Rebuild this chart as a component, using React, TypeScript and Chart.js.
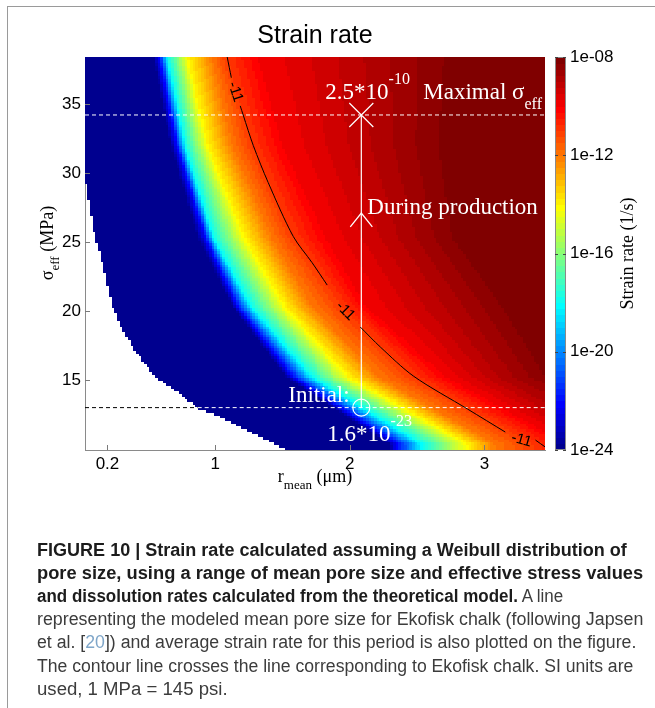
import React, { useEffect, useLayoutEffect, useRef } from 'react';
import { Chart, registerables } from 'chart.js';
Chart.register(...registerables);

// ---------- axes ----------
const chartTitle = 'Strain rate';
const xTickValues = [0.2, 1, 2, 3];
const yTickValues = [15, 20, 25, 30, 35];
const cbarTickValues = [-24, -20, -16, -12, -8];
const xLimits = [0.033, 3.45];
const yLimits = [9.93, 38.4];
const cbarLimits = [-24, -8];

// ---------- strain-rate field: r (um) where log10(rate) reaches each level, per sigma row ----------
const fieldLevels = [-24, -22, -18, -14, -12, -11, -10, -9, -8.25];
const fieldRowSigma = [10.4, 15.3, 20.4, 25.4, 32.0, 38.4];
const rowSigma10 = [2.29, 2.36, 2.54, 2.88, 3.08, 3.36, 3.62, 4.0, 4.6];
const rowSigma15 = [1.52, 1.58, 1.72, 1.99, 2.21, 2.47, 2.71, 3.1, 3.45];
const rowSigma20 = [1.13, 1.17, 1.27, 1.52, 1.72, 1.94, 2.12, 2.7, 3.13];
const rowSigma25 = [0.87, 0.93, 0.99, 1.22, 1.42, 1.58, 1.82, 2.36, 2.76];
const rowSigma32 = [0.67, 0.72, 0.78, 0.95, 1.13, 1.28, 1.5, 2.16, 2.66];
const rowSigma38 = [0.54, 0.59, 0.65, 0.8, 0.98, 1.09, 1.32, 2.11, 2.7];
const fieldRows = [rowSigma10, rowSigma15, rowSigma20, rowSigma25, rowSigma32, rowSigma38];

// no-data (white) region: r below this boundary
const maskSigma = [9.93, 10.1, 11.2, 12.3, 13.0, 14.1, 15.3, 17.0, 18.6, 20.4, 24.4, 25.4, 26.8, 29.7];
const maskR = [1.53, 1.51, 1.28, 1.06, 0.87, 0.74, 0.55, 0.42, 0.316, 0.24, 0.145, 0.108, 0.085, 0.033];

// ---------- contour line log10(rate) = -11 ----------
const contourText = '-11';
const contourR = [1.089, 1.12, null, 1.186, 1.208, 1.283, 1.394, 1.58, 1.72, 1.832, null, 2.078, 2.227, 2.472, 2.874, 3.155, null, 3.379, 3.453];
const contourS = [38.41, 36.9, null, 34.86, 34.2, 31.99, 29.3, 25.4, 23.5, 21.88, null, 18.84, 17.39, 15.29, 12.9, 11.23, null, 10.65, 10.14];
const contourLabelR = [1.149, 1.967, 3.275];
const contourLabelS = [35.87, 20.0, 10.65];
const contourLabelAngle = [72, 45, 16];

// ---------- Ekofisk path ----------
const ekofiskR = 2.0855;
const sigmaInitial = 13.0;
const sigmaMaximal = 34.2;
const sigmaProduction = 27.1;
const chevronR = [ekofiskR - 0.082, ekofiskR, ekofiskR + 0.082];
const chevronS = [sigmaProduction - 1.0, sigmaProduction, sigmaProduction - 1.0];
const rateMaximalMantissa = '2.5*10';
const rateMaximalExp = '-10';
const rateInitialMantissa = '1.6*10';
const rateInitialExp = '-23';

const captionLines = [
  { b: 'FIGURE 10 | Strain rate calculated assuming a Weibull distribution of', n: '', w: 590 },
  { b: 'pore size, using a range of mean pore size and effective stress values', n: '', w: 606 },
  { b: 'and dissolution rates calculated from the theoretical model.', n: ' A line', w: 526 },
  { b: '', n: 'representing the modeled mean pore size for Ekofisk chalk (following Japsen', w: 606 },
  { b: '', n: 'et al. [|20|]) and average strain rate for this period is also plotted on the figure.', w: 599 },
  { b: '', n: 'The contour line crosses the line corresponding to Ekofisk chalk. SI units are', w: 596 },
  { b: '', n: 'used, 1 MPa = 145 psi.', w: 191 },
];

// ---------- helpers ----------
function interp1(xs: number[], ys: number[], x: number): number {
  if (x <= xs[0]) return ys[0];
  const n = xs.length;
  if (x >= xs[n - 1]) return ys[n - 1];
  for (let k = 0; k < n - 1; k++) {
    if (x <= xs[k + 1]) {
      const f = (x - xs[k]) / (xs[k + 1] - xs[k]);
      return ys[k] + f * (ys[k + 1] - ys[k]);
    }
  }
  return ys[n - 1];
}
function levelPositionsAt(s: number): number[] {
  return fieldLevels.map((_, li) => interp1(fieldRowSigma, fieldRows.map((row) => row[li]), s));
}
function valueAt(pos: number[], r: number): number {
  const n = pos.length;
  if (r <= pos[0]) return fieldLevels[0] - 1;
  if (r >= pos[n - 1]) return fieldLevels[n - 1];
  for (let k = 0; k < n - 1; k++) {
    if (r <= pos[k + 1]) {
      const f = (r - pos[k]) / (pos[k + 1] - pos[k]);
      return fieldLevels[k] + f * (fieldLevels[k + 1] - fieldLevels[k]);
    }
  }
  return fieldLevels[n - 1];
}
function maskAt(s: number): number {
  if (s > maskSigma[maskSigma.length - 1]) return -Infinity;
  return interp1(maskSigma, maskR, s);
}
function jetU(j: number): number {
  if (j < 1 || j > 47) return 0;
  if (j <= 16) return j / 16;
  if (j <= 31) return 1;
  return (48 - j) / 16;
}
function jetColor(idx: number): string {
  const k = idx + 1;
  const r = jetU(k - 24), g = jetU(k - 8), b = jetU(k + 8);
  return `rgb(${Math.round(r * 255)},${Math.round(g * 255)},${Math.round(b * 255)})`;
}
const jetTable = Array.from({ length: 64 }, (_, i) => jetColor(i));
function colorFor(v: number): string {
  const t = (v - cbarLimits[0]) / (cbarLimits[1] - cbarLimits[0]);
  const idx = Math.max(0, Math.min(63, Math.floor(t * 64)));
  return jetTable[idx];
}

type Part = { t: string; f: number; dy?: number };
function drawRich(ctx: CanvasRenderingContext2D, parts: Part[], x: number, y: number, family: string, measureOnly = false): number {
  let cx = x;
  for (const p of parts) {
    ctx.font = `${p.f}px ${family}`;
    if (!measureOnly) ctx.fillText(p.t, cx, y + (p.dy || 0));
    cx += ctx.measureText(p.t).width;
  }
  return cx - x;
}

const SERIF = '"Liberation Serif", "Times New Roman", serif';
const SANS = '"Liberation Sans", Arial, sans-serif';

const heatmapPlugin = {
  id: 'heatmap',
  beforeDatasetsDraw(chart: any) {
    const { ctx, chartArea, scales } = chart;
    const xs = scales.x, ys = scales.y;
    ctx.save();
    ctx.beginPath();
    ctx.rect(chartArea.left, chartArea.top, chartArea.width, chartArea.height);
    ctx.clip();
    const nr = 170, ns = 146;
    const dr = (xLimits[1] - xLimits[0]) / nr;
    const ds = (yLimits[1] - yLimits[0]) / ns;
    for (let j = 0; j < ns; j++) {
      const s0 = yLimits[0] + j * ds;
      const sc = s0 + ds / 2;
      const pos = levelPositionsAt(sc);
      const rm = maskAt(sc);
      const py0 = Math.floor(ys.getPixelForValue(s0 + ds));
      const py1 = Math.ceil(ys.getPixelForValue(s0));
      for (let i = 0; i < nr; i++) {
        const r0 = xLimits[0] + i * dr;
        const rc = r0 + dr / 2;
        if (rc < rm) continue;
        ctx.fillStyle = colorFor(valueAt(pos, rc));
        const px0 = Math.floor(xs.getPixelForValue(r0));
        const px1 = Math.ceil(xs.getPixelForValue(r0 + dr));
        ctx.fillRect(px0, py0, px1 - px0, py1 - py0);
      }
    }
    ctx.restore();
  },
};

const annotationPlugin = {
  id: 'annotations',
  afterDatasetsDraw(chart: any) {
    const { ctx, scales } = chart;
    const xs = scales.x, ys = scales.y;
    ctx.save();
    ctx.fillStyle = '#000';
    ctx.font = `15px ${SANS}`;
    ctx.textAlign = 'center';
    ctx.textBaseline = 'middle';
    contourLabelR.forEach((r, i) => {
      ctx.save();
      ctx.translate(xs.getPixelForValue(r), ys.getPixelForValue(contourLabelS[i]));
      ctx.rotate((contourLabelAngle[i] * Math.PI) / 180);
      ctx.fillText(contourText, 0, 0);
      ctx.restore();
    });
    ctx.fillStyle = '#fff';
    ctx.textAlign = 'left';
    ctx.textBaseline = 'alphabetic';
    const px = xs.getPixelForValue(ekofiskR);
    const pMax = ys.getPixelForValue(sigmaMaximal);
    const pInit = ys.getPixelForValue(sigmaInitial);
    const pProd = ys.getPixelForValue(sigmaProduction);
    drawRich(ctx, [{ t: rateMaximalMantissa, f: 23 }, { t: rateMaximalExp, f: 16, dy: -15 }], px - 36, pMax - 16, SERIF);
    drawRich(ctx, [{ t: 'Maximal σ', f: 23 }, { t: 'eff', f: 16, dy: 10 }], px + 62, pMax - 16, SERIF);
    drawRich(ctx, [{ t: 'During production', f: 23 }], px + 6, pProd + 1, SERIF);
    drawRich(ctx, [{ t: 'Initial:', f: 23 }], px - 73, pInit - 6, SERIF);
    drawRich(ctx, [{ t: rateInitialMantissa, f: 23 }, { t: rateInitialExp, f: 16, dy: -15 }], px - 34, pInit + 33, SERIF);
    ctx.restore();
  },
  afterDraw(chart: any) {
    const { ctx, chartArea, scales } = chart;
    const xs = scales.x, ys = scales.y, cs = scales.cbar;
    ctx.save();
    ctx.strokeStyle = '#7a7a7a';
    ctx.lineWidth = 1;
    ctx.beginPath();
    xTickValues.forEach((v) => {
      const p = Math.round(xs.getPixelForValue(v)) + 0.5;
      ctx.moveTo(p, chartArea.bottom);
      ctx.lineTo(p, chartArea.bottom - 5);
    });
    yTickValues.forEach((v) => {
      const p = Math.round(ys.getPixelForValue(v)) + 0.5;
      ctx.moveTo(chartArea.left, p);
      ctx.lineTo(chartArea.left + 5, p);
    });
    ctx.stroke();
    // colorbar
    const cx0 = chartArea.right + 10, cx1 = chartArea.right + 21;
    for (let i = 0; i < 64; i++) {
      const v0 = cbarLimits[0] + (i * (cbarLimits[1] - cbarLimits[0])) / 64;
      const v1 = cbarLimits[0] + ((i + 1) * (cbarLimits[1] - cbarLimits[0])) / 64;
      const y0 = Math.floor(cs.getPixelForValue(v1));
      const y1 = Math.ceil(cs.getPixelForValue(v0));
      ctx.fillStyle = jetTable[i];
      ctx.fillRect(cx0, y0, cx1 - cx0, y1 - y0);
    }
    ctx.strokeStyle = '#8a8a8a';
    ctx.strokeRect(cx0 + 0.5, Math.round(chartArea.top) + 0.5, cx1 - cx0 - 1, Math.round(chartArea.height) - 1);
    ctx.strokeStyle = '#444';
    ctx.beginPath();
    cbarTickValues.forEach((v) => {
      const p = Math.round(cs.getPixelForValue(v)) + 0.5;
      ctx.moveTo(cx0, p); ctx.lineTo(cx0 + 3, p);
      ctx.moveTo(cx1, p); ctx.lineTo(cx1 - 3, p);
    });
    ctx.stroke();
    // title
    ctx.fillStyle = '#000';
    ctx.font = `25px ${SANS}`;
    ctx.textAlign = 'center';
    ctx.fillText(chartTitle, (chartArea.left + chartArea.right) / 2, 43);
    ctx.textAlign = 'left';
    // x axis title
    const xParts: Part[] = [{ t: 'r', f: 18 }, { t: 'mean', f: 13, dy: 7 }, { t: ' (μm)', f: 18 }];
    const xw = drawRich(ctx, xParts, 0, 0, SERIF, true);
    drawRich(ctx, xParts, (chartArea.left + chartArea.right) / 2 - xw / 2, 482, SERIF);
    // y axis title
    const yParts: Part[] = [{ t: 'σ', f: 18 }, { t: 'eff', f: 13, dy: 6 }, { t: ' (MPa)', f: 18 }];
    const yw = drawRich(ctx, yParts, 0, 0, SERIF, true);
    ctx.save();
    ctx.translate(53, 243);
    ctx.rotate(-Math.PI / 2);
    drawRich(ctx, yParts, -yw / 2, 0, SERIF);
    ctx.restore();
    // colorbar title
    const cParts: Part[] = [{ t: 'Strain rate (1/s)', f: 18 }];
    const cw = drawRich(ctx, cParts, 0, 0, SERIF, true);
    ctx.save();
    ctx.translate(633, (chartArea.top + chartArea.bottom) / 2);
    ctx.rotate(-Math.PI / 2);
    drawRich(ctx, cParts, -cw / 2, 0, SERIF);
    ctx.restore();
    ctx.restore();
  },
};

function toPoints(rs: (number | null)[], ss: (number | null)[]) {
  return rs.map((r, i) => ({ x: r, y: ss[i] }));
}

function ChartCanvas() {
  const ref = useRef<HTMLCanvasElement>(null);
  useEffect(() => {
    if (!ref.current) return;
    const white = '#ffffff';
    const chart = new Chart(ref.current, {
      type: 'scatter',
      data: {
        datasets: [
          {
            data: toPoints(contourR, contourS) as any,
            showLine: true, spanGaps: false, borderColor: '#000', borderWidth: 1, pointRadius: 0, tension: 0.3,
          },
          {
            data: toPoints([xLimits[0], xLimits[1]], [sigmaMaximal, sigmaMaximal]) as any,
            showLine: true, borderColor: white, borderWidth: 1, borderDash: [4, 3], pointRadius: 0,
          },
          {
            data: toPoints([maskAt(sigmaInitial), xLimits[1]], [sigmaInitial, sigmaInitial]) as any,
            showLine: true, borderColor: white, borderWidth: 1, borderDash: [4, 3], pointRadius: 0,
          },
          {
            data: toPoints([xLimits[0], maskAt(sigmaInitial)], [sigmaInitial, sigmaInitial]) as any,
            showLine: true, borderColor: '#000', borderWidth: 1, borderDash: [4, 3], pointRadius: 0,
          },
          {
            data: toPoints([ekofiskR, ekofiskR], [sigmaInitial, sigmaMaximal]) as any,
            showLine: true, borderColor: white, borderWidth: 1.2, pointRadius: 0,
          },
          {
            data: toPoints(chevronR, chevronS) as any,
            showLine: true, borderColor: white, borderWidth: 1.3, pointRadius: 0,
          },
          {
            data: toPoints([ekofiskR], [sigmaMaximal]) as any,
            pointStyle: 'crossRot', pointRadius: 17, borderColor: white, borderWidth: 1.2, backgroundColor: 'transparent',
          },
          {
            data: toPoints([ekofiskR], [sigmaInitial]) as any,
            pointStyle: 'circle', pointRadius: 8.5, borderColor: white, borderWidth: 1.2, backgroundColor: 'rgba(0,0,0,0)',
          },
        ],
      },
      options: {
        animation: false,
        responsive: false,
        events: [],
        layout: { padding: { top: 57, left: 0, right: 0, bottom: 0 } },
        plugins: { legend: { display: false }, tooltip: { enabled: false }, title: { display: false } },
        scales: {
          x: {
            type: 'linear', min: xLimits[0], max: xLimits[1],
            afterBuildTicks: (s: any) => { s.ticks = xTickValues.map((v) => ({ value: v })); },
            afterFit: (s: any) => { s.height = 55; },
            ticks: { callback: (v: any) => String(v), color: '#000', font: { family: SANS, size: 17 }, padding: 4, maxRotation: 0 },
            grid: { display: true, drawOnChartArea: false, drawTicks: false },
            border: { display: true, color: '#8a8a8a', width: 1 },
          },
          y: {
            type: 'linear', min: yLimits[0], max: yLimits[1],
            afterBuildTicks: (s: any) => { s.ticks = yTickValues.map((v) => ({ value: v })); },
            afterFit: (s: any) => { s.width = 85; },
            ticks: { callback: (v: any) => String(v), color: '#000', font: { family: SANS, size: 17 }, padding: 4 },
            grid: { display: true, drawOnChartArea: false, drawTicks: false },
            border: { display: true, color: '#8a8a8a', width: 1 },
          },
          cbar: {
            type: 'linear', position: 'right', min: cbarLimits[0], max: cbarLimits[1],
            afterBuildTicks: (s: any) => { s.ticks = cbarTickValues.map((v) => ({ value: v })); },
            afterFit: (s: any) => { s.width = 110; },
            ticks: {
              callback: (v: any) => '1e-' + String(-v).padStart(2, '0'),
              color: '#000', font: { family: SANS, size: 17 }, padding: 25,
            },
            grid: { display: false, drawTicks: false },
            border: { display: false },
          },
        },
      } as any,
      plugins: [heatmapPlugin, annotationPlugin],
    });
    return () => chart.destroy();
  }, []);
  return (
    <canvas ref={ref} width={655} height={505}
      style={{ position: 'fixed', left: 0, top: 0, width: 655, height: 505, display: 'block' }} />
  );
}

function Caption() {
  const refs = useRef<(HTMLDivElement | null)[]>([]);
  useLayoutEffect(() => {
    refs.current.forEach((el, i) => {
      if (!el) return;
      const w = el.scrollWidth;
      el.style.transform = `scaleX(${captionLines[i].w / w})`;
    });
  }, []);
  return (
    <>
      {captionLines.map((ln, i) => {
        const segs = ln.n.split('|');
        return (
          <div key={i} ref={(el) => { refs.current[i] = el; }}
            style={{
              position: 'fixed', left: 37, top: 550 + i * 23.1 - 12, whiteSpace: 'nowrap',
              fontFamily: SANS, fontSize: 18, lineHeight: '24px', color: '#3c3c3c', transformOrigin: 'left center',
            }}>
            {ln.b && <span style={{ fontWeight: 'bold', color: '#1c1c1c' }}>{ln.b}</span>}
            {segs.map((s, k) => (
              <span key={k} style={k === 1 ? { color: '#7fa6c9' } : undefined}>{s}</span>
            ))}
          </div>
        );
      })}
    </>
  );
}

export default function App() {
  return (
    <div>
      <div style={{ position: 'fixed', left: 7, top: 6, width: 720, height: 760, borderLeft: '1px solid #9a9a9a', borderTop: '1px solid #9a9a9a' }} />
      <ChartCanvas />
      <Caption />
    </div>
  );
}
